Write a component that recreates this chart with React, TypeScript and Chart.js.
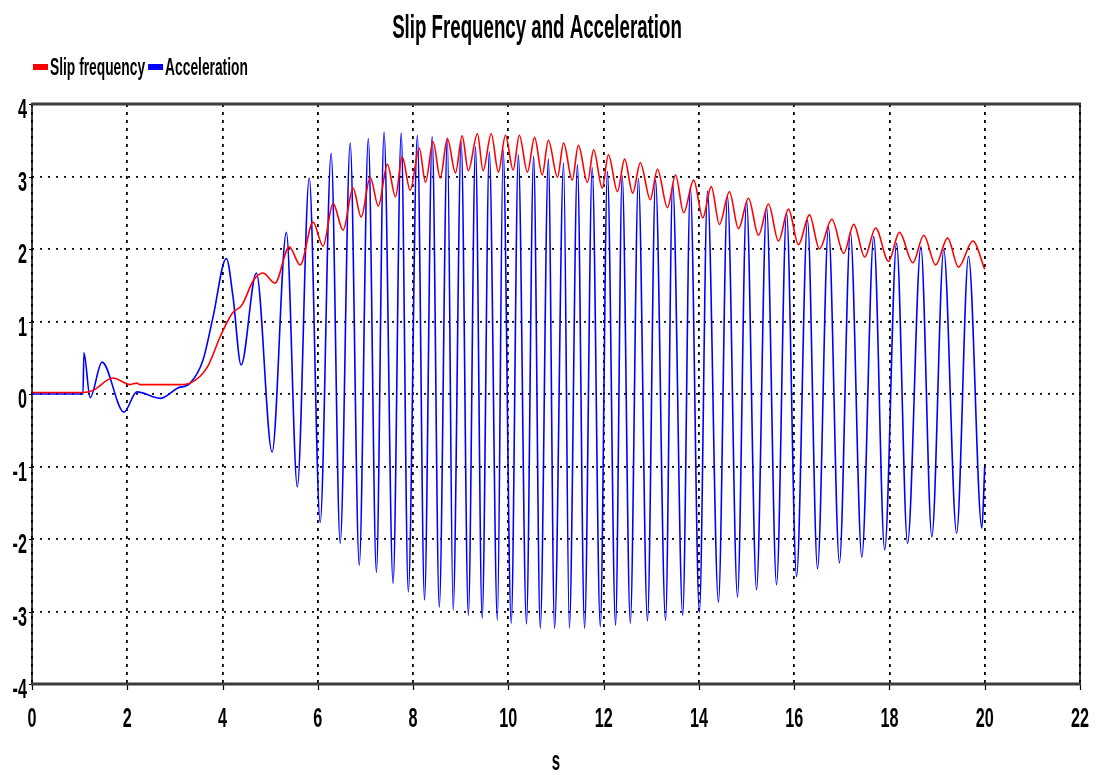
import React, { useEffect, useRef } from "react";
import { Chart, registerables } from "chart.js";

Chart.register(...registerables);

const FONT = "'Liberation Sans', Arial, sans-serif";

const chartTitle = "Slip Frequency and Acceleration";
const xAxisTitle = "s";
const seriesNames = ["Slip frequency", "Acceleration"];
const seriesColors = ["#ff0000", "#0000ff"];

const xTickValues = [0, 2, 4, 6, 8, 10, 12, 14, 16, 18, 20, 22];
const yTickValues = [-4, -3, -2, -1, 0, 1, 2, 3, 4];

const slipTime = [0, 1.07, 1.28, 1.70, 2.06, 2.20, 2.27, 3.11, 3.32, 3.68, 3.95, 4.20, 4.41, 4.65, 4.85, 5.10, 5.40, 5.63, 5.90, 6.11, 6.32, 6.53, 6.74, 6.91, 7.10, 7.27, 7.46, 7.63, 7.77, 7.94, 8.13, 8.26, 8.42, 8.57, 8.72, 8.89, 9.03, 9.16, 9.35, 9.47, 9.64, 9.79, 9.94, 10.10, 10.23, 10.40, 10.55, 10.71, 10.84, 11.03, 11.16, 11.34, 11.47, 11.66, 11.79, 11.97, 12.10, 12.29, 12.44, 12.61, 12.77, 12.98, 13.13, 13.34, 13.51, 13.68, 13.89, 14.08, 14.26, 14.43, 14.64, 14.83, 15.04, 15.25, 15.46, 15.67, 15.88, 16.09, 16.32, 16.53, 16.79, 17.04, 17.25, 17.48, 17.71, 17.98, 18.21, 18.49, 18.72, 18.97, 19.22, 19.45, 19.75, 20.0];
const slipValue = [0.02, 0.02, 0.05, 0.22, 0.13, 0.15, 0.13, 0.13, 0.15, 0.37, 0.79, 1.11, 1.23, 1.57, 1.67, 1.53, 2.03, 1.78, 2.37, 2.04, 2.63, 2.26, 2.84, 2.44, 2.99, 2.59, 3.17, 2.72, 3.27, 2.81, 3.39, 2.92, 3.48, 2.98, 3.52, 3.05, 3.56, 3.08, 3.59, 3.08, 3.59, 3.06, 3.57, 3.09, 3.57, 3.06, 3.54, 3.02, 3.50, 2.99, 3.46, 2.95, 3.43, 2.92, 3.37, 2.84, 3.30, 2.79, 3.24, 2.77, 3.19, 2.68, 3.10, 2.57, 3.02, 2.50, 2.95, 2.43, 2.86, 2.34, 2.79, 2.28, 2.70, 2.19, 2.62, 2.11, 2.55, 2.06, 2.47, 2.00, 2.41, 1.94, 2.34, 1.89, 2.29, 1.83, 2.23, 1.81, 2.19, 1.78, 2.15, 1.75, 2.11, 1.72];

const accTime = [0, 1.07, 1.09, 1.22, 1.47, 1.93, 2.20, 2.69, 3.05, 3.32, 3.59, 3.80, 4.08, 4.22, 4.39, 4.71, 5.04, 5.34, 5.57, 5.82, 6.05, 6.28, 6.47, 6.68, 6.87, 7.06, 7.23, 7.39, 7.58, 7.75, 7.90, 8.09, 8.24, 8.40, 8.55, 8.72, 8.84, 9.01, 9.16, 9.31, 9.45, 9.60, 9.77, 9.89, 10.06, 10.21, 10.38, 10.53, 10.67, 10.84, 10.97, 11.16, 11.28, 11.45, 11.60, 11.76, 11.93, 12.08, 12.25, 12.39, 12.56, 12.73, 12.92, 13.09, 13.30, 13.45, 13.66, 13.82, 14.01, 14.18, 14.41, 14.60, 14.81, 15.00, 15.21, 15.42, 15.63, 15.84, 16.05, 16.28, 16.49, 16.72, 16.95, 17.18, 17.42, 17.67, 17.90, 18.15, 18.38, 18.66, 18.89, 19.14, 19.41, 19.66, 19.94, 20.0];
const accValue = [0, 0, 0.57, -0.05, 0.44, -0.25, 0.03, -0.06, 0.08, 0.15, 0.47, 1.06, 1.87, 1.34, 0.40, 1.67, -0.80, 2.23, -1.28, 2.98, -1.77, 3.32, -2.06, 3.46, -2.36, 3.52, -2.46, 3.61, -2.61, 3.60, -2.73, 3.57, -2.84, 3.55, -2.94, 3.53, -2.98, 3.48, -3.05, 3.41, -3.09, 3.34, -3.12, 3.37, -3.16, 3.30, -3.17, 3.28, -3.23, 3.24, -3.23, 3.19, -3.23, 3.16, -3.23, 3.12, -3.21, 3.07, -3.19, 3.01, -3.16, 2.97, -3.13, 2.95, -3.12, 2.91, -3.05, 2.85, -3.01, 2.80, -2.87, 2.73, -2.80, 2.67, -2.70, 2.58, -2.63, 2.50, -2.52, 2.40, -2.41, 2.30, -2.33, 2.23, -2.25, 2.17, -2.15, 2.08, -2.06, 2.03, -1.97, 1.99, -1.92, 1.90, -1.85, -1.0];

// text in the reference is drawn tall and narrow: render with a vertical stretch
function tallText(ctx: CanvasRenderingContext2D, text: string, x: number, baseline: number, size: number, stretch: number, align: CanvasTextAlign) {
  ctx.save();
  ctx.font = `bold ${size}px ${FONT}`;
  ctx.textAlign = align;
  ctx.textBaseline = "alphabetic";
  ctx.fillStyle = "#000";
  ctx.translate(x, baseline);
  ctx.scale(1, stretch);
  ctx.fillText(text, 0, 0);
  ctx.restore();
}

const decorPlugin = {
  id: "decor",
  afterDraw(chart: any) {
    const { ctx, chartArea: a, scales } = chart;
    ctx.save();
    // tick marks
    ctx.strokeStyle = "#000";
    ctx.lineWidth = 1.2;
    ctx.beginPath();
    xTickValues.forEach((v) => {
      const px = Math.round(scales.x.getPixelForValue(v)) + 0.5;
      ctx.moveTo(px, a.bottom);
      ctx.lineTo(px, a.bottom + 6);
    });
    yTickValues.forEach((v) => {
      const py = Math.round(scales.y.getPixelForValue(v)) + 0.5;
      ctx.moveTo(a.left - 3, py);
      ctx.lineTo(a.left, py);
    });
    ctx.stroke();

    // frame
    ctx.strokeStyle = "#000";
    ctx.lineWidth = 1.5;
    ctx.beginPath();
    ctx.moveTo(a.left, a.top);
    ctx.lineTo(a.left, a.bottom);
    ctx.moveTo(a.right, a.bottom);
    ctx.lineTo(a.right, a.top);
    ctx.stroke();
    ctx.strokeStyle = "#3c3c3c";
    ctx.lineWidth = 3;
    ctx.beginPath();
    ctx.moveTo(a.left - 1, a.top);
    ctx.lineTo(a.right + 1, a.top);
    ctx.moveTo(a.left - 1, a.bottom);
    ctx.lineTo(a.right + 1, a.bottom);
    ctx.stroke();
    ctx.restore();

    // title
    tallText(ctx, chartTitle, (a.left + a.right) / 2 - 19, 38, 18.7, 1.8, "center");

    // legend
    ctx.save();
    let x = 33;
    const baseline = 75;
    seriesNames.forEach((name, i) => {
      ctx.fillStyle = seriesColors[i];
      ctx.fillRect(x, 64, 15, 6);
      x += 17;
      tallText(ctx, name, x, baseline, 13.8, 1.8, "left");
      ctx.font = `bold 13.8px ${FONT}`;
      x += ctx.measureText(name).width + 3;
    });
    ctx.restore();

    // tick labels
    xTickValues.forEach((v) => {
      tallText(ctx, String(v), scales.x.getPixelForValue(v), a.bottom + 43, 16.2, 1.72, "center");
    });
    yTickValues.forEach((v) => {
      tallText(ctx, String(v), 27, scales.y.getPixelForValue(v) + 14, 16.2, 1.72, "right");
    });

    // axis title
    tallText(ctx, xAxisTitle, (a.left + a.right) / 2 + 0, 770, 15, 1.8, "center");
  },
};

export default function App() {
  const ref = useRef<HTMLCanvasElement | null>(null);
  useEffect(() => {
    if (!ref.current) return;
    const chart = new Chart(ref.current, {
      type: "line",
      data: {
        datasets: [
          {
            label: seriesNames[0],
            data: slipTime.map((t, i) => ({ x: t, y: slipValue[i] })),
            borderColor: seriesColors[0],
            backgroundColor: seriesColors[0],
            borderWidth: 1.6,
            pointRadius: 0,
            cubicInterpolationMode: "monotone",
            fill: false,
          },
          {
            label: seriesNames[1],
            data: accTime.map((t, i) => ({ x: t, y: accValue[i] })),
            borderColor: seriesColors[1],
            backgroundColor: seriesColors[1],
            borderWidth: 1.6,
            pointRadius: 0,
            cubicInterpolationMode: "monotone",
            fill: false,
          },
        ],
      },
      options: {
        animation: false,
        responsive: false,
        layout: { autoPadding: false, padding: { left: 0, right: 16, top: 104, bottom: 0 } },
        plugins: {
          legend: { display: false },
          tooltip: { enabled: false },
          title: { display: false },
        },
        scales: {
          x: {
            type: "linear",
            min: 0,
            max: 22,
            ticks: { display: false, stepSize: 2 },
            grid: { color: "#000", lineWidth: 1.8, drawTicks: false },
            border: { display: false, dash: [3, 5] },
            afterFit(scale: any) {
              scale.height = 91;
            },
          },
          y: {
            type: "linear",
            min: -4,
            max: 4,
            ticks: { display: false, stepSize: 1 },
            grid: { color: "#000", lineWidth: 1.8, drawTicks: false },
            border: { display: false, dash: [2, 6] },
            afterFit(scale: any) {
              scale.width = 32;
            },
          },
        },
      },
      plugins: [decorPlugin],
    });
    return () => chart.destroy();
  }, []);
  return (
    <div style={{ position: "absolute", left: 0, top: 0, width: 1096, height: 775, background: "#fff" }}>
      <canvas ref={ref} width={1096} height={775} />
    </div>
  );
}
